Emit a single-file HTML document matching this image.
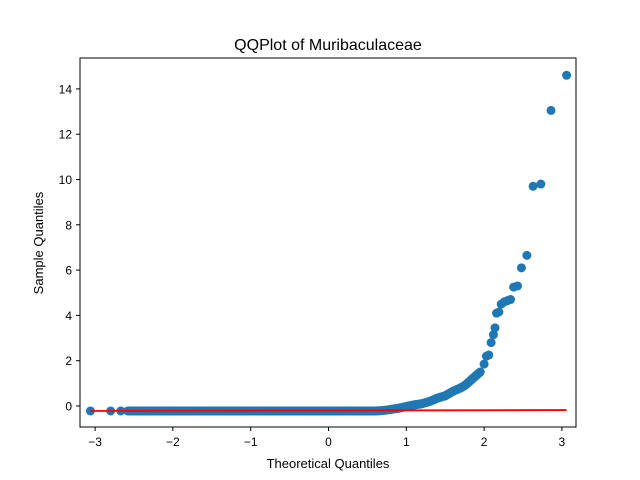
<!DOCTYPE html>
<html><head><meta charset="utf-8"><style>
body{margin:0;background:#fff}
svg{display:block;font-family:"Liberation Sans","DejaVu Sans",sans-serif}
</style></head><body>
<svg id="chart" width="640" height="480" viewBox="0 0 640 480">
<rect width="640" height="480" fill="#fff"/>
<text x="328" y="50" text-anchor="middle" font-size="16">QQPlot of Muribaculaceae</text>
<g id="marks"></g>
<rect x="80" y="58" width="496" height="369" fill="none" stroke="#000" stroke-width="1"/>
<g id="axes"></g>
<text x="328" y="468" text-anchor="middle" font-size="13">Theoretical Quantiles</text>
<text transform="translate(43,243) rotate(-90)" text-anchor="middle" font-size="13">Sample Quantiles</text>
</svg>
<script>
const xTicks=[-3,-2,-1,0,1,2,3];
const yTicks=[0,2,4,6,8,10,12,14];
const theoretical=[-3.06,-2.8,-2.67,-2.58,-2.5,-2.4,-2.3,-2.2,-2.1,-2.0,-1.9,-1.8,-1.7,-1.6,-1.5,-1.4,-1.3,-1.2,-1.1,-1.0,-0.9,-0.8,-0.7,-0.6,-0.5,-0.4,-0.3,-0.2,-0.1,0,0.1,0.2,0.3,0.4,0.5,0.6,0.7,0.8,0.9,1.0,1.1,1.2,1.3,1.4,1.5,1.6,1.7,1.75,1.8,1.85,1.9,1.95,2.0,2.03,2.06,2.09,2.12,2.14,2.16,2.19,2.22,2.26,2.3,2.34,2.38,2.43,2.48,2.55,2.63,2.73,2.86,3.06];
const sample=[-0.22,-0.22,-0.22,-0.22,-0.22,-0.22,-0.22,-0.22,-0.22,-0.22,-0.22,-0.22,-0.22,-0.22,-0.22,-0.22,-0.22,-0.22,-0.22,-0.22,-0.22,-0.22,-0.22,-0.22,-0.22,-0.22,-0.22,-0.22,-0.22,-0.22,-0.22,-0.22,-0.22,-0.22,-0.22,-0.22,-0.2,-0.15,-0.1,-0.02,0.05,0.1,0.2,0.35,0.45,0.65,0.8,0.9,1.05,1.2,1.35,1.5,1.85,2.2,2.25,2.8,3.15,3.45,4.1,4.15,4.5,4.6,4.65,4.7,5.25,5.3,6.1,6.65,9.7,9.8,13.05,14.6];
const lineX=[-3.06,3.06];
const lineY=[-0.22,-0.18];
const NS='http://www.w3.org/2000/svg';
function sx(v){return 328.5+77.8*v;}
function sy(v){return 406-22.65*v;}
const marks=document.getElementById('marks');
const axes=document.getElementById('axes');
for(let i=0;i<theoretical.length-1;i++){
  if(theoretical[i+1]-theoretical[i]<=0.11 && theoretical[i]>-2.6 && theoretical[i+1]<=1.95){
    const l=document.createElementNS(NS,'line');
    l.setAttribute('x1',sx(theoretical[i]));l.setAttribute('y1',sy(sample[i]));
    l.setAttribute('x2',sx(theoretical[i+1]));l.setAttribute('y2',sy(sample[i+1]));
    l.setAttribute('stroke','#1f77b4');l.setAttribute('stroke-width',9);
    
    
    marks.appendChild(l);
  }
}
for(let i=0;i<theoretical.length;i++){
  const c=document.createElementNS(NS,'circle');
  c.setAttribute('cx',sx(theoretical[i]));c.setAttribute('cy',sy(sample[i]));
  c.setAttribute('r',4.5);c.setAttribute('fill','#1f77b4');
  
  
  marks.appendChild(c);
}
const rl=document.createElementNS(NS,'line');
rl.setAttribute('x1',sx(lineX[0]));rl.setAttribute('y1',sy(lineY[0]));
rl.setAttribute('x2',sx(lineX[1]));rl.setAttribute('y2',sy(lineY[1]));
rl.setAttribute('stroke','#ff0000');rl.setAttribute('stroke-width',1.8);


marks.appendChild(rl);
xTicks.forEach(t=>{
  const l=document.createElementNS(NS,'line');
  l.setAttribute('x1',sx(t));l.setAttribute('x2',sx(t));l.setAttribute('y1',427);l.setAttribute('y2',431);
  l.setAttribute('stroke','#000');
  
  
  axes.appendChild(l);
  const tx=document.createElementNS(NS,'text');
  tx.setAttribute('x',sx(t));tx.setAttribute('y',446);tx.setAttribute('text-anchor','middle');tx.setAttribute('font-size','12');
  tx.textContent=t<0?'\u2212'+Math.abs(t):String(t);
  
  
  axes.appendChild(tx);
});
yTicks.forEach(t=>{
  const l=document.createElementNS(NS,'line');
  l.setAttribute('x1',76);l.setAttribute('x2',80);l.setAttribute('y1',sy(t));l.setAttribute('y2',sy(t));
  l.setAttribute('stroke','#000');
  
  
  axes.appendChild(l);
  const tx=document.createElementNS(NS,'text');
  tx.setAttribute('x',72);tx.setAttribute('y',sy(t)+4.5);tx.setAttribute('text-anchor','end');tx.setAttribute('font-size','12');
  tx.textContent=String(t);
  
  
  axes.appendChild(tx);
});
</script>
</body></html>
